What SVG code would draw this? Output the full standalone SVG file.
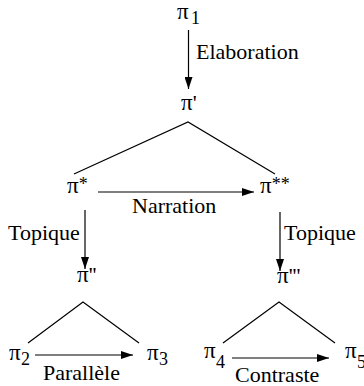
<svg xmlns="http://www.w3.org/2000/svg" width="364" height="386" viewBox="0 0 364 386" font-family="Liberation Serif, Times New Roman, serif" font-size="22">
<style>
text{fill:#000}
.s{font-size:18px}
.p{font-size:23px}
.l{stroke:#000;stroke-width:1.2;fill:none}
</style>
<defs>
<marker id="ah" markerWidth="12" markerHeight="8" refX="12" refY="4" orient="auto" markerUnits="userSpaceOnUse">
<path d="M0,0 L12,4 L0,8 Z" fill="#000"/>
</marker>
</defs>
<rect width="364" height="386" fill="#fff"/>
<g id="connectors">
<line class="l" x1="188.5" y1="30" x2="188.5" y2="89" marker-end="url(#ah)"/>
<text x="196" y="59">Elaboration</text>
<polyline class="l" points="74,174 188,122 275,174"/>
<line class="l" x1="98" y1="192" x2="254" y2="192" marker-end="url(#ah)"/>
<text x="132" y="213">Narration</text>
<line class="l" x1="85" y1="210" x2="85" y2="269" marker-end="url(#ah)"/>
<text x="8" y="240">Topique</text>
<line class="l" x1="280" y1="212" x2="280" y2="271" marker-end="url(#ah)"/>
<text x="284" y="240">Topique</text>
<polyline class="l" points="28,343 83,302 139,343"/>
<polyline class="l" points="223,343 279,302 335,343"/>
<line class="l" x1="35" y1="355" x2="133" y2="355" marker-end="url(#ah)"/>
<text x="43" y="380">Parallèle</text>
<line class="l" x1="232" y1="358" x2="329" y2="358" marker-end="url(#ah)"/>
<text x="235" y="382">Contraste</text>
</g>
<g id="n1"><text x="177" y="19"><tspan class="p">π</tspan><tspan class="s" x="191" y="24">1</tspan></text></g>
<g id="np"><text x="181" y="110"><tspan class="p">π</tspan>'</text></g>
<g id="ns"><text x="67" y="193"><tspan class="p">π</tspan><tspan class="s" dy="-3">*</tspan></text></g>
<g id="nss"><text x="260" y="193"><tspan class="p">π</tspan><tspan class="s" dy="-3">**</tspan></text></g>
<g id="npp"><text x="77" y="282"><tspan class="p">π</tspan>''</text></g>
<g id="nppp"><text x="277" y="283"><tspan class="p">π</tspan>'''</text></g>
<g id="n2"><text x="9" y="360"><tspan class="p">π</tspan><tspan class="s" x="21" y="365">2</tspan></text></g>
<g id="n3"><text x="147" y="360"><tspan class="p">π</tspan><tspan class="s" x="159" y="365">3</tspan></text></g>
<g id="n4"><text x="204" y="358"><tspan class="p">π</tspan><tspan class="s" x="216" y="368">4</tspan></text></g>
<g id="n5"><text x="345" y="358"><tspan class="p">π</tspan><tspan class="s" x="357" y="368">5</tspan></text></g>
</svg>
